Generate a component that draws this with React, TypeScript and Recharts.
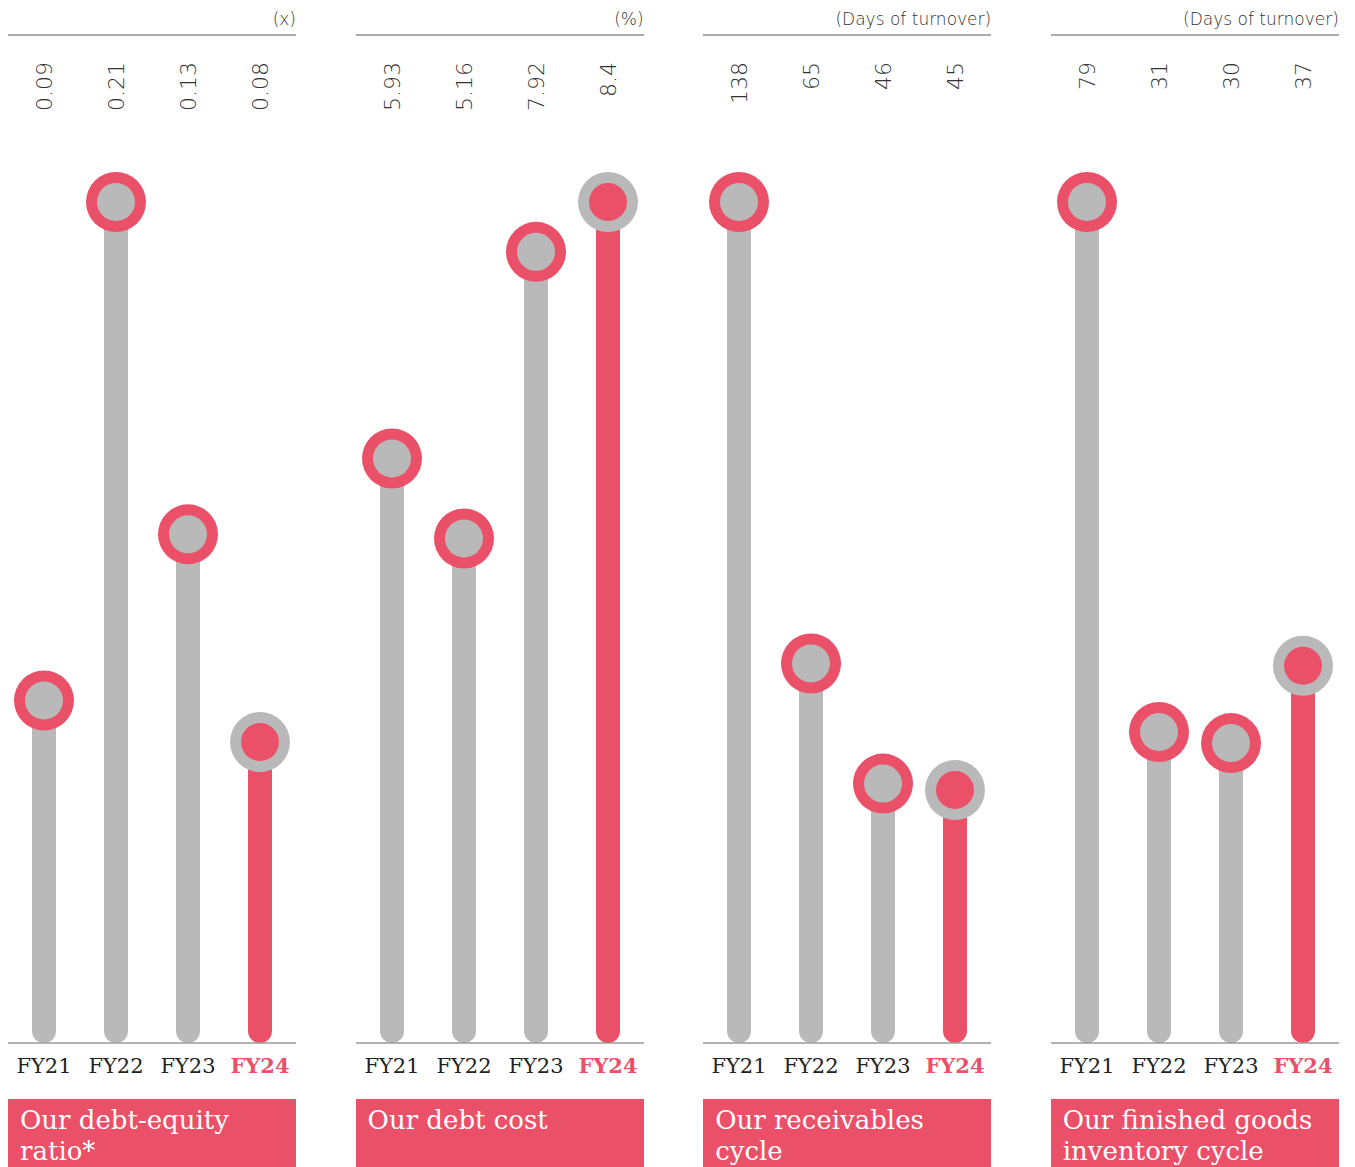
import React from 'react';
import { BarChart, Bar, XAxis, YAxis, LabelList } from 'recharts';

const years = ['FY21', 'FY22', 'FY23', 'FY24'];
const debtEquity = [0.09, 0.21, 0.13, 0.08];
const debtCost = [5.93, 5.16, 7.92, 8.4];
const receivables = [138, 65, 46, 45];
const inventory = [79, 31, 30, 37];

const titles = ['Our debt-equity ratio*', 'Our debt cost', 'Our receivables cycle', 'Our finished goods inventory cycle'];
const units = ['(x)', '(%)', '(Days of turnover)', '(Days of turnover)'];
const series = [debtEquity, debtCost, receivables, inventory];
const labels = [
    ['0.09', '0.21', '0.13', '0.08'],
    ['5.93', '5.16', '7.92', '8.4'],
    ['138', '65', '46', '45'],
    ['79', '31', '30', '37'],
];

const PINK = '#EB5069';
const GREY = '#B9B9B9';
const PANEL_W = 288;
const CHART_H = 1085;

const Lollipop = (props: any) => {
    const { x, y, width, height, payload } = props;
    const cx = x + width / 2;
    const current = payload.year === 'FY24';
    const stem = current ? PINK : GREY;
    return (
        <g>
            <rect x={cx - 12} y={y} width={24} height={height} rx={12} fill={stem} />
            <circle cx={cx} cy={y} r={30} fill={current ? GREY : PINK} />
            <circle cx={cx} cy={y} r={19} fill={current ? PINK : GREY} />
        </g>
    );
};

const YearTick = (props: any) => {
    const { x, y, payload } = props;
    const current = payload.value === 'FY24';
    return (
        <text x={x} y={y + 30} textAnchor="middle" fontFamily="DejaVu Serif" fontSize={21}
            fontWeight={current ? 'bold' : 'normal'} fill={current ? PINK : '#222'}>
            {payload.value}
        </text>
    );
};

const Panel: React.FC<{ idx: number }> = ({ idx }) => {
    const values = series[idx];
    const data = years.map((year, i) => ({ year, value: values[i], label: labels[idx][i] }));
    const max = Math.max(...values);
    const renderValue = (p: any) => {
        const cx = p.x + p.width / 2;
        return (
            <text transform={`translate(${cx + 8},62) rotate(-90)`} textAnchor="end"
                fontFamily="DejaVu Sans" fontWeight={200} fontSize={22} fill="#333">
                {p.value}
            </text>
        );
    };
    return (
        <div style={{ position: 'absolute', left: 8 + idx * 347.6, top: 0, width: PANEL_W, height: 1167 }}>
            <div style={{ position: 'absolute', right: 0, top: 9, fontFamily: 'DejaVu Sans', fontWeight: 200, fontSize: 17, color: '#333' }}>
                {units[idx]}
            </div>
            <div style={{ position: 'absolute', left: 0, top: 34, width: PANEL_W, height: 2, background: '#aaa' }} />
            <div style={{ position: 'absolute', left: 0, top: 0 }}>
                <BarChart width={PANEL_W} height={CHART_H} data={data} barCategoryGap={0}
                    margin={{ top: 202, right: 0, left: 0, bottom: 0 }}>
                    <XAxis dataKey="year" height={42} tickLine={false} tickSize={0} tickMargin={0}
                        axisLine={{ stroke: '#999', strokeWidth: 1.5 }} tick={<YearTick />} interval={0} />
                    <YAxis hide domain={[max * 0.036, max]} />
                    <Bar dataKey="value" shape={<Lollipop />} isAnimationActive={false}>
                        <LabelList dataKey="label" content={renderValue} />
                    </Bar>
                </BarChart>
            </div>
            <div style={{
                position: 'absolute', left: 0, top: 1099, width: PANEL_W, height: 68, overflow: 'hidden',
                background: PINK, color: '#fff', fontFamily: 'DejaVu Serif', fontSize: 26, lineHeight: '31px',
                padding: '6px 10px 0 12px', boxSizing: 'border-box',
            }}>
                {titles[idx]}
            </div>
        </div>
    );
}

export default function App() {
    return (
        <div style={{ position: 'absolute', left: 0, top: 0, width: 1355, height: 1167, overflow: 'hidden', background: '#fff' }}>
            {[0, 1, 2, 3].map((i) => <Panel key={i} idx={i} />)}
        </div>
    );
}
